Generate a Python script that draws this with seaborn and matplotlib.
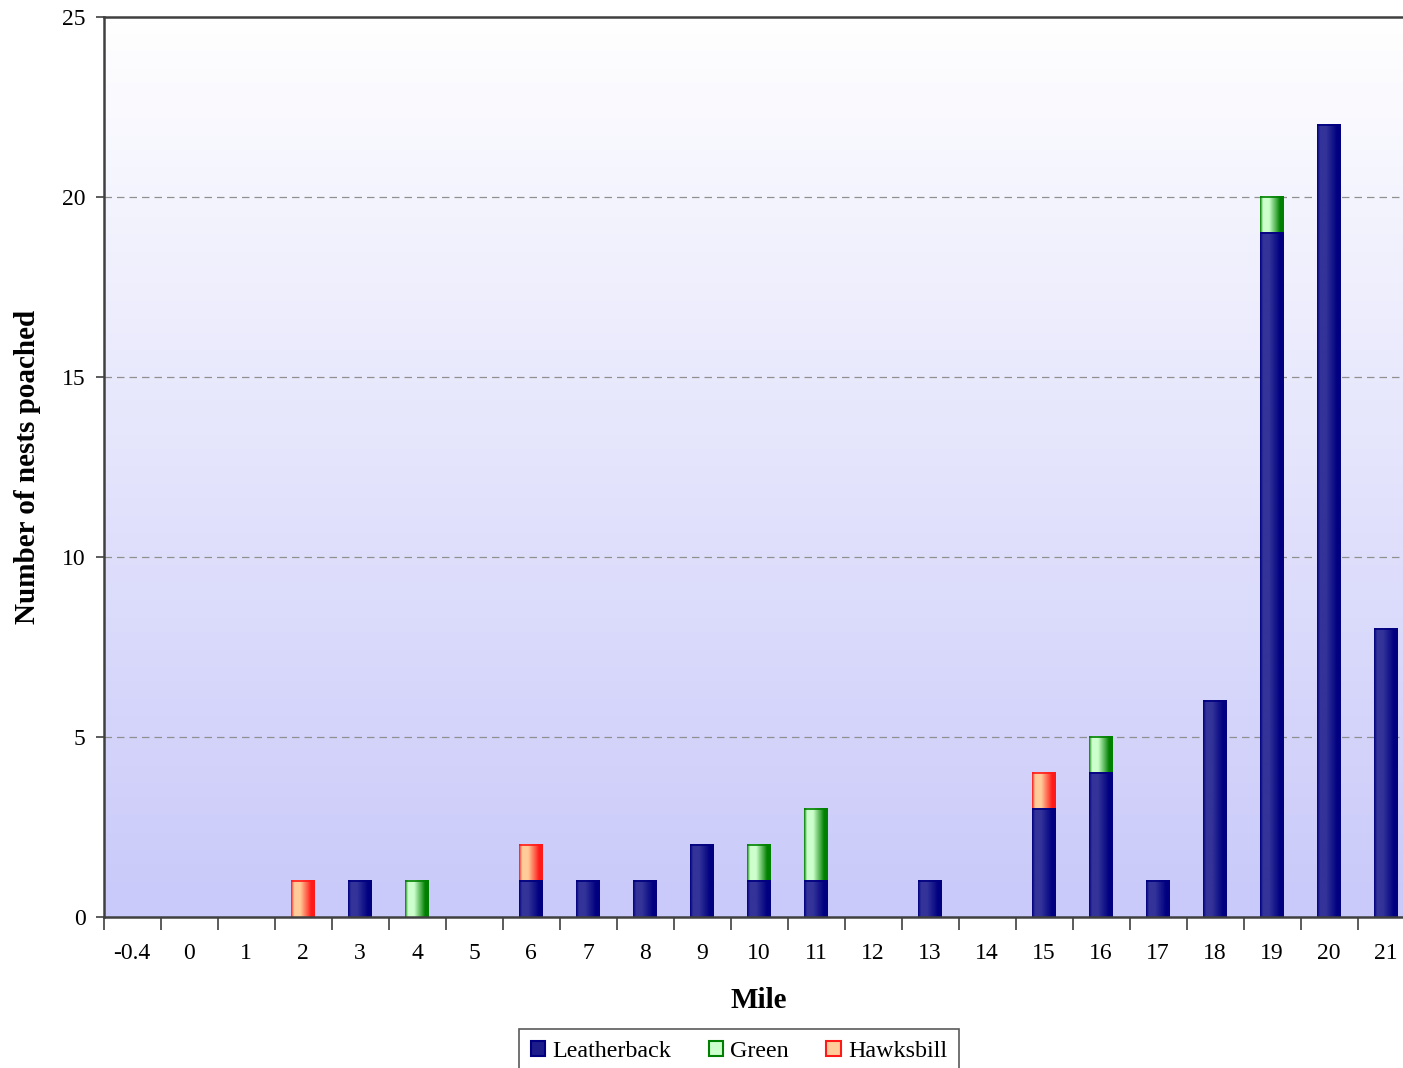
import numpy as np
import pandas as pd
import matplotlib
matplotlib.use('Agg')
import matplotlib.pyplot as plt
import seaborn as sns
from matplotlib.colors import LinearSegmentedColormap
from matplotlib.patches import Patch

# Data
miles = ['-0.4', '0', '1', '2', '3', '4', '5', '6', '7', '8', '9', '10',
         '11', '12', '13', '14', '15', '16', '17', '18', '19', '20', '21']
leatherback = [0, 0, 0, 0, 1, 0, 0, 1, 1, 1, 2, 1, 1, 0, 1, 0, 3, 4, 1, 6, 19, 22, 8]
green = [0, 0, 0, 0, 0, 1, 0, 0, 0, 0, 0, 1, 2, 0, 0, 0, 0, 1, 0, 0, 1, 0, 0]
hawksbill = [0, 0, 0, 1, 0, 0, 0, 1, 0, 0, 0, 0, 0, 0, 0, 0, 1, 0, 0, 0, 0, 0, 0]

df = pd.DataFrame({'Mile': miles, 'Leatherback': leatherback,
                   'Green': green, 'Hawksbill': hawksbill})
df['cum_green'] = df['Leatherback'] + df['Green']
df['cum_hawk'] = df['cum_green'] + df['Hawksbill']

sns.set_style('white')
plt.rcParams['font.family'] = ['Liberation Serif', 'DejaVu Serif']
plt.rcParams['text.color'] = 'black'
plt.rcParams['axes.labelcolor'] = 'black'
plt.rcParams['xtick.labelcolor'] = 'black'
plt.rcParams['ytick.labelcolor'] = 'black'

fig = plt.figure(figsize=(14.03, 10.68), dpi=100)
ax = fig.add_axes([0.0738, 0.1414, 1311 / 1403, 0.8427])

# background gradient white (top) -> lavender (bottom)
bg = np.linspace(0, 1, 256).reshape(-1, 1)
bg_cmap = LinearSegmentedColormap.from_list('bg', ['#ffffff', '#c9c9fa'])
ax.imshow(bg, cmap=bg_cmap, extent=(0, 1, 0, 1), transform=ax.transAxes,
          origin='upper', aspect='auto', zorder=0)

# species styles: (edge colour, highlight colour)
styles = {
    'Hawksbill': ('#ff1a1a', '#ffcc99'),
    'Green': ('#008000', '#ccffcc'),
    'Leatherback': ('#000080', '#333399'),
}
layers = [('cum_hawk', 'Hawksbill'), ('cum_green', 'Green'), ('Leatherback', 'Leatherback')]

bar_w = 0.42
grad = np.linspace(0, 1, 64).reshape(1, -1)
for i, (col, name) in enumerate(layers):
    edge, hi = styles[name]
    n_before = len(ax.patches)
    sns.barplot(data=df, x='Mile', y=col, order=miles, color=hi, width=bar_w,
                linewidth=0, ax=ax, zorder=2 + i)
    cmap = LinearSegmentedColormap.from_list(
        name, [(0, edge), (0.12, hi), (0.38, hi), (0.85, edge), (1, edge)])
    for p in ax.patches[n_before:]:
        h = p.get_height()
        if h <= 0:
            continue
        x0 = p.get_x()
        w = p.get_width()
        y0 = p.get_y()
        ax.imshow(grad, cmap=cmap, extent=(x0, x0 + w, y0, y0 + h),
                  aspect='auto', zorder=2 + i + 0.5, interpolation='bilinear')
        # rim at the top of each segment
        ax.plot([x0, x0 + w], [y0 + h, y0 + h], color=edge, lw=1.2,
                zorder=2 + i + 0.6, solid_capstyle='butt')

ax.set_xlim(-0.5, len(miles) - 0.5)
ax.set_ylim(0, 25)
ax.set_yticks(range(0, 26, 5))

# dashed grid lines
for yv in [5, 10, 15, 20]:
    ax.axhline(yv, color='#909090', lw=0.9, ls=(0, (6, 4)), zorder=1)

# tick marks between categories
ax.set_xticks(range(len(miles)))
ax.set_xticklabels(miles)
ax.set_xticks(np.arange(-0.5, len(miles), 1), minor=True)
ax.tick_params(axis='x', which='major', length=0, pad=19, labelsize=17,
               labelcolor='black')
ax.tick_params(axis='x', which='minor', length=9, width=1.2, color='#404040',
               direction='out', bottom=True)
ax.tick_params(axis='y', length=6, width=1.2, color='#404040', direction='out',
               left=True, labelsize=17, pad=7, labelcolor='black')

for s in ['left', 'top', 'bottom', 'right']:
    ax.spines[s].set_color('#404040')
    ax.spines[s].set_linewidth(1.8)
    ax.spines[s].set_zorder(10)

ax.set_xlabel('Mile', fontsize=21, fontweight='bold', labelpad=16, color='black')
ax.set_ylabel('Number of nests poached', fontsize=21, fontweight='bold',
              labelpad=15, color='black')

# legend swatches
handles = [Patch(facecolor=styles[n][1], edgecolor=styles[n][0], lw=1.5, label=n)
           for n in ['Leatherback', 'Green', 'Hawksbill']]
handles[0].set_facecolor('#1c1c8a')
leg = fig.legend(handles=handles, loc='upper center', ncol=3,
                 bbox_to_anchor=(739 / 1403, 1 - 1029 / 1068), borderaxespad=0,
                 fontsize=17.3, frameon=True, fancybox=False, edgecolor='#303030',
                 handlelength=0.6, handleheight=0.6, handletextpad=0.3,
                 columnspacing=1.55, borderpad=0.5)
leg.get_frame().set_linewidth(1.2)
for t in leg.get_texts():
    t.set_color('black')

fig.savefig('out.png', dpi=100)
